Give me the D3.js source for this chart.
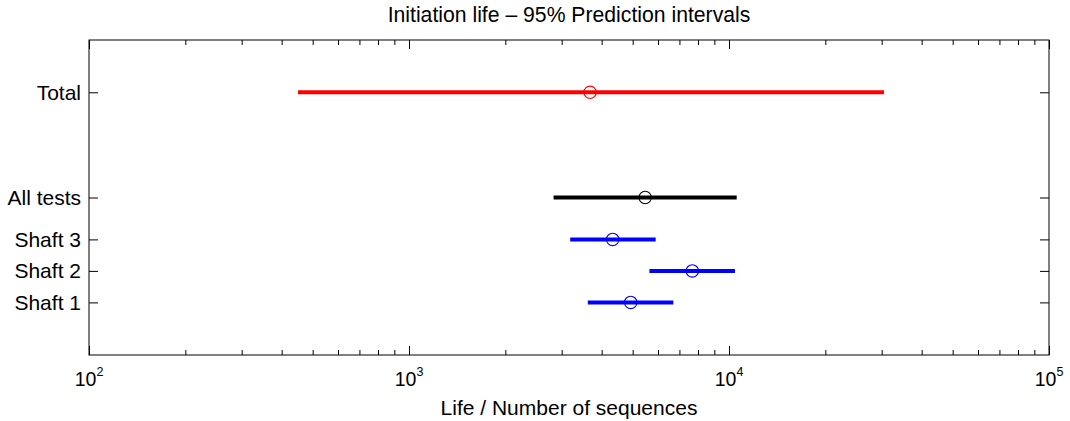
<!DOCTYPE html>
<html>
<head>
<meta charset="utf-8">
<script src="https://cdn.jsdelivr.net/npm/d3@7"></script>
<style>
  html, body { margin: 0; padding: 0; background: #fff; }
  svg { display: block; font-family: "Liberation Sans", Arial, sans-serif; }
</style>
</head>
<body>
<svg id="chart" width="1070" height="421"></svg>
<script>
// ---- data ----
const categories = ["Shaft 1", "Shaft 2", "Shaft 3", "All tests", "Total"];
const positions = [1, 2, 3, 4.33, 7.67];
const lowerBounds = [3620, 5640, 3190, 2830, 450];
const medians = [4930, 7680, 4330, 5470, 3680];
const upperBounds = [6700, 10440, 5900, 10570, 30500];
const seriesColors = ["#0000ff", "#0000ff", "#0000ff", "#000000", "#ff0000"];
const xMajorTicks = [1e2, 1e3, 1e4, 1e5];
const xTickExponents = ["2", "3", "4", "5"];
const titleText = "Initiation life \u2013 95% Prediction intervals";
const xLabelText = "Life / Number of sequences";

// ---- layout ----
const L = 89, R = 1049, T = 40, B = 355;
const svg = d3.select("#chart");

const x = d3.scaleLog().domain([1e2, 1e5]).range([L, R]);
const y = d3.scaleLinear().domain([-0.67, 9.33]).range([B, T]);

// minor ticks
const xMinor = [];
for (let e = 2; e < 5; e++) for (let m = 2; m <= 9; m++) xMinor.push(m * Math.pow(10, e));

// background
svg.append("rect").attr("x", 0).attr("y", 0).attr("width", 1070).attr("height", 421).attr("fill", "#fff");

// axes (inward ticks on all sides)
function styleAxis(g) {
  g.select(".domain").remove();
  g.selectAll(".tick line").attr("stroke", "#000").attr("stroke-width", 1);
  g.selectAll(".tick text").remove();
}
svg.append("g").attr("transform", `translate(0,${B})`)
  .call(d3.axisBottom(x).tickValues(xMajorTicks).tickSize(-9).tickFormat(""))
  .call(styleAxis);
svg.append("g").attr("transform", `translate(0,${B})`)
  .call(d3.axisBottom(x).tickValues(xMinor).tickSize(-5).tickFormat(""))
  .call(styleAxis);
svg.append("g").attr("transform", `translate(0,${T})`)
  .call(d3.axisTop(x).tickValues(xMajorTicks).tickSize(-9).tickFormat(""))
  .call(styleAxis);
svg.append("g").attr("transform", `translate(0,${T})`)
  .call(d3.axisTop(x).tickValues(xMinor).tickSize(-5).tickFormat(""))
  .call(styleAxis);
svg.append("g").attr("transform", `translate(${L},0)`)
  .call(d3.axisLeft(y).tickValues(positions).tickSize(-9).tickFormat(""))
  .call(styleAxis);
svg.append("g").attr("transform", `translate(${R},0)`)
  .call(d3.axisRight(y).tickValues(positions).tickSize(-9).tickFormat(""))
  .call(styleAxis);

// frame
svg.append("rect").attr("x", L).attr("y", T).attr("width", R - L).attr("height", B - T)
  .attr("fill", "none").attr("stroke", "#000").attr("stroke-width", 1);

// x tick labels 10^n
xMajorTicks.forEach((v, i) => {
  const t = svg.append("text").attr("x", x(v)).attr("y", 386)
    .attr("text-anchor", "middle").attr("font-size", 19.5).attr("fill", "#000");
  t.append("tspan").text("10");
  t.append("tspan").attr("dy", -10).attr("font-size", 12.5).text(xTickExponents[i]);
});

// y tick labels
categories.forEach((c, i) => {
  svg.append("text").attr("x", L - 8).attr("y", y(positions[i]))
    .attr("dy", "0.36em").attr("text-anchor", "end")
    .attr("font-size", 21).attr("fill", "#000").text(c);
});

// intervals
categories.forEach((c, i) => {
  svg.append("line")
    .attr("x1", x(lowerBounds[i])).attr("x2", x(upperBounds[i]))
    .attr("y1", y(positions[i])).attr("y2", y(positions[i]))
    .attr("stroke", seriesColors[i]).attr("stroke-width", 4);
  svg.append("circle")
    .attr("cx", x(medians[i])).attr("cy", y(positions[i])).attr("r", 6.2)
    .attr("fill", "none").attr("stroke", seriesColors[i]).attr("stroke-width", 1.1);
});

// title and x label
svg.append("text").attr("x", (L + R) / 2).attr("y", 22).attr("text-anchor", "middle")
  .attr("font-size", 21.2).attr("fill", "#000").text(titleText);
svg.append("text").attr("x", (L + R) / 2).attr("y", 415).attr("text-anchor", "middle")
  .attr("font-size", 21).attr("fill", "#000").text(xLabelText);
</script>
</body>
</html>
